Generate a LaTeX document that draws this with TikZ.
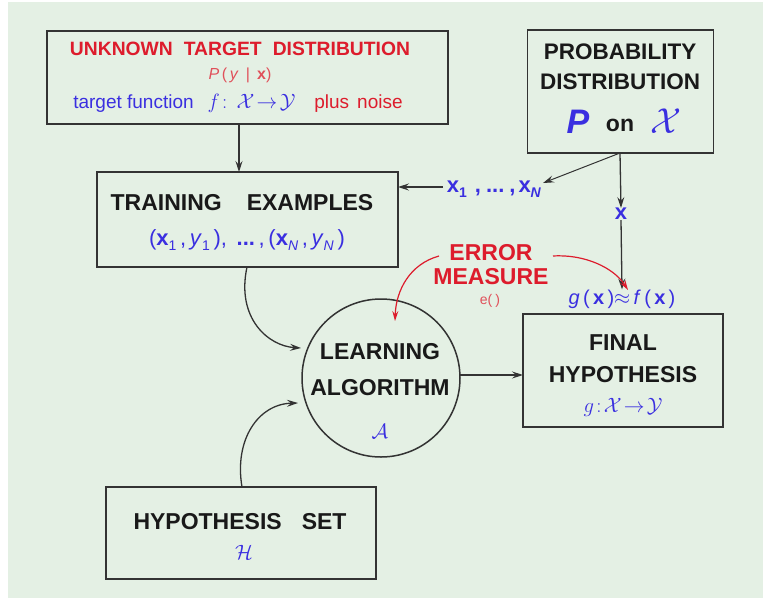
\documentclass[tikz,border=0pt]{standalone}
\usepackage{fontspec}
\usepackage{graphicx}
\setmainfont{Liberation Sans}
\usetikzlibrary{arrows.meta,calc}
\definecolor{bgc}{HTML}{E4F0E4}
\definecolor{ered}{HTML}{DD1C2C}
\definecolor{eblue}{HTML}{3A2FE0}
\definecolor{epink}{HTML}{E0505A}
\definecolor{edge}{HTML}{333333}
\newcommand\setfs[1]{\fontsize{#1}{#1}\selectfont}
% low-set index, as in x_1
\newcommand\lowidx[1]{\raisebox{-5pt}{\setfs{14}#1}}
\tikzset{
  box/.style={draw=edge, line width=1.8pt, rectangle, inner sep=0pt},
  blob/.style={draw=edge, line width=1.5pt, circle, inner sep=0pt, minimum size=158},
  head/.style={inner sep=0pt, text=black!90, font=\setfs{23}\bfseries},
  note/.style={inner sep=0pt},
  arr/.style={draw=edge, line width=1.3pt, -{Stealth[length=11pt,width=7pt,inset=4pt]}},
  redarr/.style={draw=ered, line width=1.2pt, -{Stealth[length=10pt,width=6pt,inset=3.5pt]}},
}
\begin{document}
\begin{tikzpicture}[x=1pt,y=-1pt]
\useasboundingbox (0,0) rectangle (763,598);
\fill[bgc] (8,2) rectangle (763,598);

% boxes
\node[box, minimum width=401, minimum height=93] (utd) at (247.5,77.5) {};
\node[box, minimum width=186, minimum height=123] (prob) at (620.5,91.5) {};
\node[box, minimum width=301, minimum height=95] (train) at (247.5,219.5) {};
\node[blob] (alg) at (381,378) {};
\node[box, minimum width=200, minimum height=113] (final) at (623,370.5) {};
\node[box, minimum width=270, minimum height=92] (hset) at (241,533) {};

% unknown target distribution
\node[head, text=ered, font=\setfs{19.3}\bfseries] (utdT) at (240,49)
  {UNKNOWN\hspace{11pt}TARGET\hspace{11pt}DISTRIBUTION};
\node[note, text=epink, font=\setfs{16}] (utdP) at (240,75)
  {\textit{P}\,(\,\textit{y}\, | \,\textbf{x})};
\node[note, text=eblue, font=\setfs{19}] (utdF) at (133.5,104) {target function};
\node[note, text=eblue, font=\setfs{20}] (utdM) at (251.5,103) {$f\!:\,\mathcal{X}\!\to\!\mathcal{Y}$};
\node[note, text=ered, font=\setfs{19}] (utdN) at (358.5,104) {plus\hspace{8pt}noise};

% probability distribution
\node[head, font=\setfs{22.5}\bfseries] (probA) at (620,52) {PROBABILITY};
\node[head, font=\setfs{22.5}\bfseries] (probB) at (620,82) {DISTRIBUTION};
\node[note, text=eblue, font=\setfs{34}\bfseries\itshape] (probP) at (578,122) {P};
\node[head] (probO) at (620,125) {on};
\node[note, text=eblue, font=\setfs{24}] (probX) at (666,121) {\scalebox{1.45}{$\mathcal{X}$}};

% training examples
\node[head] (trainT) at (242,203) {TRAINING\hspace{25pt}EXAMPLES};
\node[note, text=eblue, font=\setfs{22}] (trainS) at (247,240)
  {(\textbf{x}\lowidx{1}\,,\,\textit{y}\lowidx{1}\,),\, \textbf{...}\,,\,(\textbf{x}\lowidx{\textit{N}}\,,\,\textit{y}\lowidx{\textit{N}}\,)};

% sample inputs
\node[note, text=eblue, font=\setfs{22}\bfseries] (xs) at (494,189)
  {x\lowidx{1}\hspace{8pt},\hspace{5pt}...\hspace{5pt},\hspace{3pt}x\lowidx{\textit{N}}};
\node[note, text=eblue, font=\setfs{22}\bfseries] (xone) at (621,214) {x};
\node[note, text=eblue, font=\setfs{20}] (gfx) at (622,299)
  {\textit{g}\,(\,\textbf{x}\,)$\approx$\,\textit{f}\,(\,\textbf{x}\,)};

% error measure
\node[head, text=ered] (errA) at (491,253) {ERROR};
\node[head, text=ered] (errB) at (491,277) {MEASURE};
\node[note, text=epink, font=\setfs{14}] (errE) at (490,301) {e(\hspace{3pt})};

% learning algorithm
\node[head] (algA) at (380,352) {LEARNING};
\node[head] (algB) at (380,388) {ALGORITHM};
\node[note, text=eblue, font=\setfs{20}] (algC) at (380,431) {$\mathcal{A}$};

% final hypothesis
\node[head] (finA) at (623,343) {FINAL};
\node[head] (finB) at (623,375) {HYPOTHESIS};
\node[note, text=eblue, font=\setfs{20}] (finC) at (623,407) {$g\!:\!\mathcal{X}\!\to\!\mathcal{Y}$};

% hypothesis set
\node[head] (hsA) at (240,522) {HYPOTHESIS\hspace{20pt}SET};
\node[note, text=eblue, font=\setfs{20}] (hsB) at (244,552) {$\mathcal{H}$};

% connector end points
\coordinate (pfoot) at (620,153);
\coordinate (xsTip) at (543,183);
\coordinate (utdFoot) at (239,124);
\coordinate (trainTop) at (239,172);
\coordinate (xsTail) at (443,187);
\coordinate (trainRight) at (398,187);
\coordinate (trainFoot) at (247,267);
\coordinate (algL1) at (301,348);
\coordinate (hsetTop) at (242,487);
\coordinate (algL2) at (298,403);
\coordinate (algR) at (460,375);
\coordinate (finalL) at (523,375);
\coordinate (errL) at (439,256);
\coordinate (algTop) at (395,321);
\coordinate (errR) at (553,256);
\coordinate (gfxTip) at (628,290);

% connectors
\draw[arr] (utdFoot) -- (trainTop);
\draw[arr, line width=1pt] (pfoot) -- (xsTip);
\draw[arr] (xsTail) -- (trainRight);
\draw[arr] (pfoot) -- (xone.north);
\draw[arr] (xone.south) -- (gfx.north);
\draw[arr] (trainFoot) .. controls (236,318) and (268,346) .. (algL1);
\draw[arr] (hsetTop) .. controls (234,440) and (258,404) .. (algL2);
\draw[arr] (algR) -- (finalL);
\draw[redarr] (errL) .. controls (410,264) and (396,290) .. (algTop);
\draw[redarr] (errR) .. controls (585,254) and (614,268) .. (gfxTip);
\end{tikzpicture}
\end{document}
